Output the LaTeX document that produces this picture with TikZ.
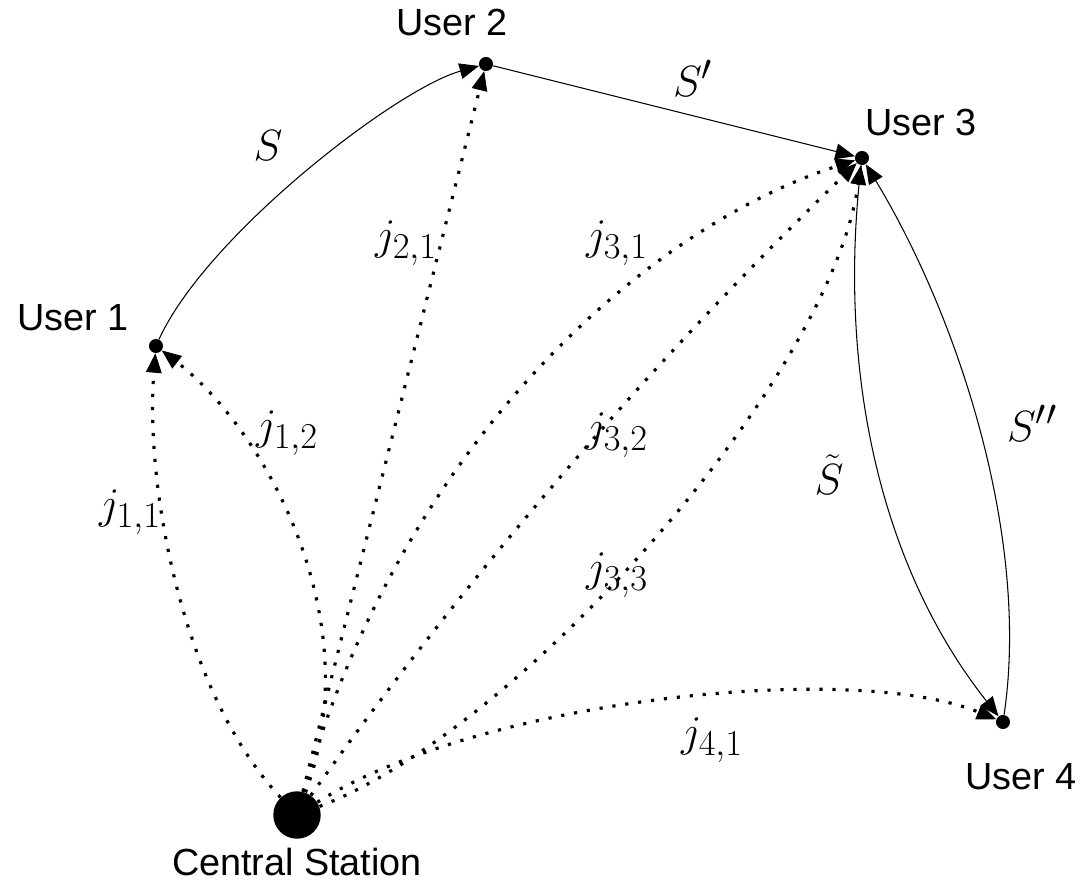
\documentclass[tikz,border=0pt]{standalone}
\usepackage{fontspec}
\newfontfamily\labelfont{Liberation Sans}
\DeclareMathSizes{25}{25}{21.5}{15}
\usetikzlibrary{arrows.meta}
\begin{document}
\begin{tikzpicture}[x=0.02cm,y=-0.02cm,
    user/.style={circle,fill,inner sep=0pt,minimum size=8pt},
    station/.style={circle,fill,inner sep=0pt,minimum size=27pt},
    who/.style={font=\labelfont\fontsize{21.5}{25}\selectfont,inner sep=0pt},
    lbl/.style={font=\fontsize{25}{29}\selectfont,inner sep=0pt},
    link/.style={line width=0.6pt,-{Triangle[length=11pt,width=9pt]}},
    jam/.style={line width=1.8pt,dash pattern=on 1.8pt off 5.6pt,
        -{Triangle[length=11pt,width=9pt,line width=0.5pt]}}]
    \useasboundingbox (0,0) rectangle (1082,892);
    % Central station and users
    \node[station] (cs) at (297,815) {};
    \node[user] (u1) at (156,346) {};
    \node[user] (u2) at (486,64) {};
    \node[user] (u3) at (862,158) {};
    \node[user] (u4) at (1003,722) {};
    \node[who] (ncs) at (297,862) {Central Station};
    \node[who] (n1) at (73,318) {User 1};
    \node[who] (n2) at (452,22) {User 2};
    \node[who] (n3) at (921,122) {User 3};
    \node[who] (n4) at (1021,777) {User 4};
    % Links between users
    \draw[link] (u1) .. controls (206,236) and (396,89) .. (u2);
    \draw[link] (u2) -- (u3);
    \draw[link] (u4) .. controls (1030,540) and (960,320) .. (u3);
    \draw[link] (u3) .. controls (838,360) and (875,560) .. (u4);
    % Signals from the station
    \draw[jam] (cs) .. controls (180,690) and (145,480) .. (u1);
    \draw[jam] (cs) .. controls (370,620) and (265,430) .. (u1);
    \draw[jam] (cs) -- (u2);
    \draw[jam] (cs) .. controls (400,450) and (640,230) .. (u3);
    \draw[jam] (cs) .. controls (465,578) and (654,359) .. (u3);
    \draw[jam] (cs) .. controls (520,730) and (830,380) .. (u3);
    \draw[jam] (cs) .. controls (480,700) and (850,660) .. (u4);
    % Labels
    \node[lbl] (ls) at (268,146) {$S$};
    \node[lbl] (ls1) at (693,78) {$S'$};
    \node[lbl] (ls2) at (1032,423) {$S''$};
    \node[lbl] (lst) at (829,475) {$\tilde{S}$};
    \node[lbl] (lj11) at (130,512) {$j_{1,1}$};
    \node[lbl] (lj12) at (287,433) {$j_{1,2}$};
    \node[lbl] (lj21) at (406,243) {$j_{2,1}$};
    \node[lbl] (lj31) at (617,243) {$j_{3,1}$};
    \node[lbl] (lj32) at (617,435) {$j_{3,2}$};
    \node[lbl] (lj33) at (617,575) {$j_{3,3}$};
    \node[lbl] (lj41) at (712,740) {$j_{4,1}$};
\end{tikzpicture}
\end{document}
